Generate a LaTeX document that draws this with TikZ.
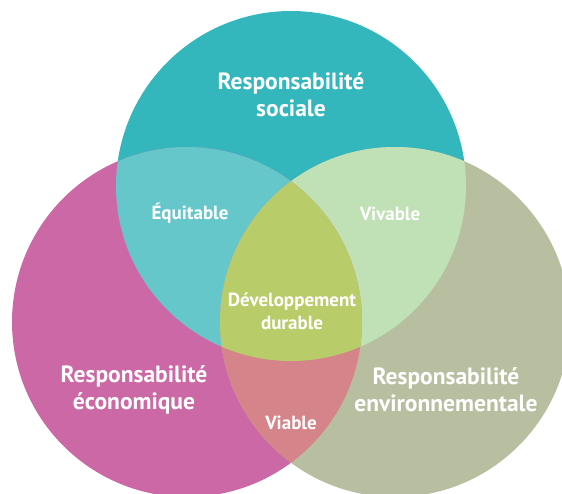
\documentclass[tikz,border=0pt]{standalone}
\usepackage{fontspec}
\setmainfont{PT Sans}
\definecolor{cTop}{HTML}{33B7BC}
\definecolor{cLeft}{HTML}{CB68A5}
\definecolor{cRight}{HTML}{B8BFA0}
\definecolor{cTL}{HTML}{66C7CB}
\definecolor{cTR}{HTML}{C0E0B5}
\definecolor{cLR}{HTML}{D58489}
\definecolor{cAll}{HTML}{B8CC6A}
\begin{document}
\begin{tikzpicture}[x=1pt,y=-1pt,
  biglabel/.style={text=white,font=\fontsize{23.5}{27}\selectfont\bfseries,align=center,inner sep=0pt},
  smalllabel/.style={text=white,font=\fontsize{19}{23}\selectfont\bfseries,align=center,inner sep=0pt}]
\useasboundingbox (0,0) rectangle (562,493);
\begin{scope}
\clip (0,0) rectangle (562,493);
\def\ctop{(291,186) circle[radius=175]}
\def\cleft{(187,322) circle[radius=175]}
\def\cright{(395,322) circle[radius=175]}
\fill[cTop] \ctop;
\fill[cLeft] \cleft;
\fill[cRight] \cright;
\begin{scope}\clip \ctop; \fill[cTL] \cleft; \end{scope}
\begin{scope}\clip \ctop; \fill[cTR] \cright; \end{scope}
\begin{scope}\clip \cleft; \fill[cLR] \cright; \end{scope}
\begin{scope}\clip \ctop; \clip \cleft; \fill[cAll] \cright; \end{scope}
\end{scope}
\node[biglabel] (soc) at (291,95) {Responsabilité\\sociale};
\node[biglabel] (eco) at (134,390) {Responsabilité\\économique};
\node[biglabel] (env) at (446,390) {Responsabilité\\environnementale};
\node[smalllabel] (equ) at (190,213) {Équitable};
\node[smalllabel] (viv) at (390,214) {Vivable};
\node[smalllabel] (via) at (291,423) {Viable};
\node[smalllabel] (dd) at (292,311) {Développement\\durable};
\end{tikzpicture}
\end{document}
